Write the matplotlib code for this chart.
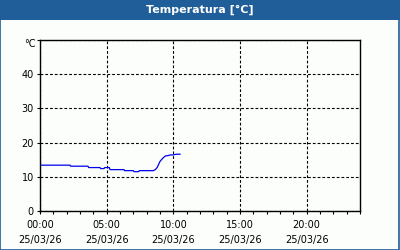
import matplotlib
matplotlib.use('Agg')
import matplotlib.pyplot as plt
from matplotlib.patches import Rectangle
from matplotlib.ticker import MultipleLocator

# ore del giorno (h) e temperatura letta
hours = [0.0, 2.25, 2.3, 3.6, 3.65, 4.5, 4.55, 4.8, 4.85, 5.2, 5.25,
         6.3, 6.35, 7.0, 7.05, 7.4, 7.45, 8.5, 8.65, 8.8, 9.0, 9.2,
         9.4, 9.6, 9.8, 10.0, 10.2, 10.5]
temps = [13.4, 13.4, 13.1, 13.1, 12.7, 12.7, 12.4, 12.4, 12.7, 12.7, 12.1,
         12.1, 11.8, 11.8, 11.5, 11.5, 11.8, 11.8, 12.1, 12.8, 14.5, 15.4,
         16.1, 16.2, 16.4, 16.4, 16.6, 16.6]

x_ticks = [0, 5, 10, 15, 20]
x_labels = ['00:00\n25/03/26', '05:00\n25/03/26', '10:00\n25/03/26',
            '15:00\n25/03/26', '20:00\n25/03/26']
y_ticks = [0, 10, 20, 30, 40, 50]
y_labels = ['0', '10', '20', '30', '40', '']
unit = '°C'

title = 'Temperatura [°C]'
blue = '#1f5e98'

plt.rcParams['font.family'] = ['DejaVu Sans']

fig = plt.figure(figsize=(4, 2.5), dpi=100)
fig.patch.set_facecolor('#fcfefc')

# barra del titolo e cornice
fig.patches.append(Rectangle((0, 230 / 250), 1, 20 / 250, transform=fig.transFigure,
                             facecolor=blue, edgecolor='none', zorder=0))
fig.patches.append(Rectangle((0.0012, 0.002), 0.9975, 0.996, transform=fig.transFigure,
                             facecolor='none', edgecolor=blue, linewidth=1.2, zorder=5))
fig.text(0.5, 240 / 250, title, color='white', fontsize=8, fontweight='bold',
         ha='center', va='center')

ax = fig.add_axes([40 / 400, 39 / 250, 320 / 400, 171 / 250])
ax.set_facecolor('#fcfefc')
ax.plot(hours, temps, color='#0000ee', linewidth=0.9)

ax.set_xlim(0, 24)
ax.set_ylim(0, 50)
ax.set_xticks(x_ticks)
ax.set_xticklabels(x_labels, fontsize=7, linespacing=1.6)
ax.xaxis.set_minor_locator(MultipleLocator(1))
ax.set_yticks(y_ticks)
ax.set_yticklabels(y_labels, fontsize=7)

# unità un po' sotto il bordo superiore
ax.annotate(unit, xy=(0, 50), xytext=(-3.5, -3), textcoords='offset points',
            ha='right', va='center', fontsize=7, annotation_clip=False)

ax.tick_params(axis='both', which='both', direction='out', length=2.5, width=0.8,
               pad=2, colors='black')
ax.tick_params(axis='x', which='major', pad=4)

ax.grid(True, which='major', color='black', linewidth=0.8, linestyle=(0, (2.5, 1.8)))
for sp in ax.spines.values():
    sp.set_linewidth(1.0)

fig.savefig('out.png', dpi=100)
